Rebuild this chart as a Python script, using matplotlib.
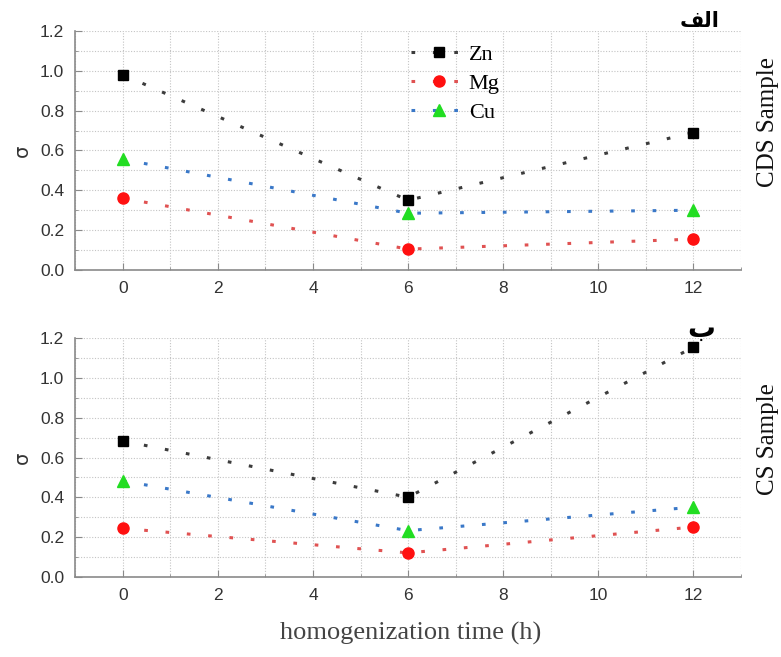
import matplotlib
matplotlib.use("Agg")
import matplotlib.pyplot as plt
from matplotlib.ticker import MultipleLocator

# homogenization time (h)
times = [0, 6, 12]

# CDS sample (top panel)
cds_zn = [0.98, 0.35, 0.69]
cds_mg = [0.36, 0.105, 0.155]
cds_cu = [0.555, 0.285, 0.30]

# CS sample (bottom panel)
cs_zn = [0.683, 0.40, 1.155]
cs_mg = [0.243, 0.12, 0.25]
cs_cu = [0.482, 0.232, 0.35]

elements = ["Zn", "Mg", "Cu"]
xticks = [0, 2, 4, 6, 8, 10, 12]
yticks = [0.0, 0.2, 0.4, 0.6, 0.8, 1.0, 1.2]

# line colour, marker, marker colour, marker size
styles = {
    "Zn": ("#3c3c3c", "s", "#000000", 6.5),
    "Mg": ("#e05252", "o", "#ff1010", 8),
    "Cu": ("#3a78c8", "^", "#22dd22", 8.5),
}
dots = (0, (1.2, 5.8))

fig = plt.figure(figsize=(7.81, 6.57), dpi=100)
ax1 = fig.add_axes([0.0965, 0.589, 0.852, 0.364])
ax2 = fig.add_axes([0.0965, 0.1222, 0.852, 0.3629])


def draw_panel(ax, zn, mg, cu):
    for name, vals in zip(elements, [zn, mg, cu]):
        lc, mk, mc, ms = styles[name]
        ax.plot(times, vals, linestyle=dots, color=lc, linewidth=2.2,
                marker=mk, markersize=ms, markerfacecolor=mc,
                markeredgecolor=mc, label=name)
    ax.set_xlim(-1, 13)
    ax.set_ylim(0, 1.2)
    ax.set_xticks(xticks)
    ax.set_yticks(yticks)
    ax.set_yticklabels([f"{v:.1f}" for v in yticks])
    ax.xaxis.set_minor_locator(MultipleLocator(1))
    ax.yaxis.set_minor_locator(MultipleLocator(0.1))
    ax.grid(True, which="both", linestyle=(0, (1, 1.5)), color="#c4c4c4",
            linewidth=0.8)
    ax.set_axisbelow(True)
    for s in ["top", "right"]:
        ax.spines[s].set_visible(False)
    for s in ["left", "bottom"]:
        ax.spines[s].set_color("#8a8a8a")
        ax.spines[s].set_linewidth(1.2)
    ax.tick_params(which="major", direction="in", length=5, color="#8a8a8a",
                   labelsize=12.5, labelcolor="#333333", pad=8)
    ax.tick_params(which="minor", direction="in", length=2.5, color="#8a8a8a")
    for lbl in ax.get_xticklabels() + ax.get_yticklabels():
        lbl.set_fontfamily("Liberation Sans")
    ax.set_ylabel("σ", fontsize=14, color="#333333", labelpad=6,
                  family="DejaVu Sans")


draw_panel(ax1, cds_zn, cds_mg, cds_cu)
draw_panel(ax2, cs_zn, cs_mg, cs_cu)

ax1.legend(loc="upper left", bbox_to_anchor=(0.512, 0.950),
           bbox_transform=fig.transFigure, frameon=False, borderpad=0,
           handlelength=2.5, handletextpad=0.1, labelspacing=0.38,
           prop={"family": "Liberation Serif", "size": 16})

fig.text(0.526, 0.036, "homogenization time (h)", ha="center", va="center",
         fontsize=19, color="#444444", family="Liberation Serif")

fig.text(0.998, 0.814, "CDS Sample", rotation=90, ha="right", va="center",
         fontsize=18, color="#111111", family="Liberation Serif")
fig.text(0.998, 0.332, "CS Sample", rotation=90, ha="right", va="center",
         fontsize=18, color="#111111", family="Liberation Serif")

# Arabic panel tags, written in presentation forms so they show joined
fig.text(0.896, 0.968, "\ufed2\ufedf\ufe8d", ha="center", va="center",
         fontsize=15, fontweight="bold", family="DejaVu Sans")
fig.text(0.898, 0.500, "\ufe8f", ha="center", va="center",
         fontsize=20, fontweight="bold", family="DejaVu Sans", zorder=10)

fig.savefig("out.png", dpi=100)
